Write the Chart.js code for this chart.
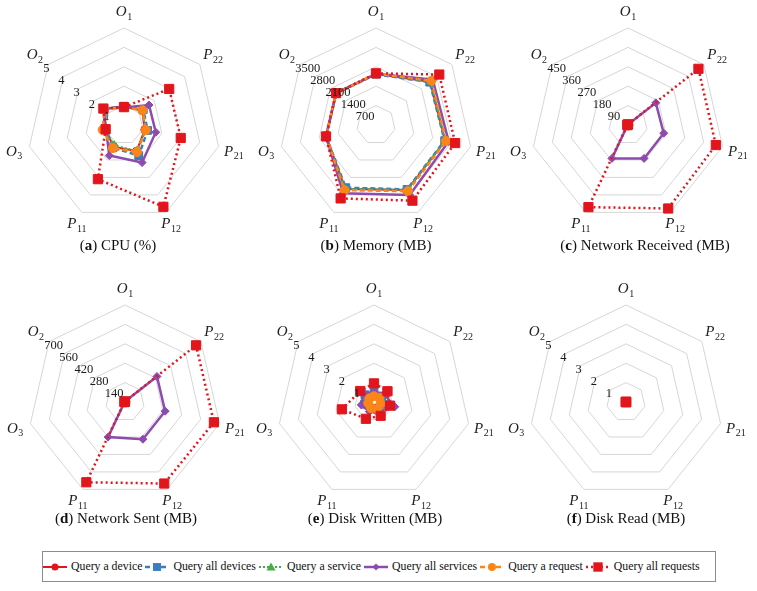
<!DOCTYPE html>
<html>
<head>
<meta charset="utf-8">
<script src="https://cdn.jsdelivr.net/npm/chart.js@4.4.0/dist/chart.umd.min.js"></script>
<style>
  html, body { margin: 0; padding: 0; background: #fff; }
  body { width: 757px; height: 591px; position: relative; overflow: hidden;
         font-family: "Liberation Serif", "DejaVu Serif", serif; color: #111; }
  canvas.panel { position: absolute; }
  .cap { position: absolute; font-size: 15px; transform: translate(-50%, -50%); white-space: nowrap; }
  #legend { position: absolute; left: 42px; top: 551px; width: 674px; height: 31px; box-sizing: border-box;
            border: 1px solid #8c8c8c; display: flex; align-items: center; padding-left: 0px; font-size: 11.8px;
            white-space: nowrap; }
  .li { display: flex; align-items: center; flex-shrink: 0; white-space: nowrap; }
  .li svg { margin: 0 4px 0 0; flex-shrink: 0; }
  .li span { margin-right: 3px; white-space: nowrap; }
</style>
</head>
<body>
<div id="legend"></div>
<script>
// ---------- DATA ----------
const categories = ['O1', 'P22', 'P21', 'P12', 'P11', 'O3', 'O2'];
const seriesNames = ['Query a device', 'Query all devices', 'Query a service',
                     'Query all services', 'Query a request', 'Query all requests'];

// CPU (%)
const cpuDevice      = [0.95, 1.20, 1.10, 1.50, 1.25, 0.97, 1.35];
const cpuAllDevices  = [0.97, 1.27, 1.25, 1.75, 1.30, 1.00, 1.33];
const cpuService     = [0.95, 1.20, 1.15, 1.50, 1.16, 1.00, 1.35];
const cpuAllServices = [0.90, 1.65, 1.68, 2.15, 1.75, 0.95, 1.35];
const cpuRequest     = [0.92, 1.22, 1.15, 1.55, 1.32, 1.13, 1.30];
const cpuAllRequests = [0.92, 2.98, 3.00, 4.68, 3.10, 0.97, 1.36];
const cpuTicks = [1, 2, 3, 4, 5];

// Memory (MB)
const memDevice      = [1840, 2500, 2560, 2600, 2560, 1840, 1830];
const memAllDevices  = [1830, 2480, 2540, 2580, 2510, 1850, 1830];
const memService     = [1840, 2520, 2560, 2600, 2560, 1840, 1840];
const memAllServices = [1850, 2620, 2690, 2800, 2730, 1850, 1850];
const memRequest     = [1850, 2560, 2590, 2650, 2610, 1850, 1840];
const memAllRequests = [1865, 2920, 2930, 3030, 2940, 1850, 1845];
const memTicks = [700, 1400, 2100, 2800, 3500];

// Network Received (MB)
const nrDevice      = [1.5, 2, 2, 2, 2, 1.5, 1.5];
const nrAllDevices  = [2, 2.5, 2.5, 2.5, 2.5, 2, 2];
const nrService     = [1.5, 2, 2, 2, 2, 1.5, 1.5];
const nrAllServices = [2, 165, 170, 172, 172, 2, 2];
const nrRequest     = [1.5, 2, 2, 2, 2, 1.5, 1.5];
const nrAllRequests = [3, 418, 418, 430, 423, 3, 3];
const nrTicks = [90, 180, 270, 360, 450];

// Network Sent (MB)
const nsDevice      = [2, 3, 3, 3, 3, 2, 2];
const nsAllDevices  = [3, 4, 4, 4, 4, 3, 3];
const nsService     = [2, 3, 3, 3, 3, 2, 2];
const nsAllServices = [3, 295, 297, 298, 281, 3, 3];
const nsRequest     = [2, 3, 3, 3, 3, 2, 2];
const nsAllRequests = [4, 656, 658, 653, 643, 4, 4];
const nsTicks = [140, 280, 420, 560, 700];

// Disk Written (MB)
const dwDevice      = [0.35, 0.40, 0.40, 0.35, 0.35, 0.40, 0.40];
const dwAllDevices  = [0.55, 0.50, 0.50, 0.45, 0.40, 0.50, 0.60];
const dwService     = [0.40, 0.45, 0.45, 0.40, 0.40, 0.45, 0.45];
const dwAllServices = [0.50, 0.66, 1.10, 0.52, 0.55, 0.67, 0.70];
const dwRequest     = [0.30, 0.35, 0.35, 0.40, 0.35, 0.30, 0.30];
const dwAllRequests = [0.96, 0.89, 0.85, 0.79, 0.96, 1.70, 0.91];
const dwTicks = [1, 2, 3, 4, 5];

// Disk Read (MB)
const drDevice      = [0, 0, 0, 0, 0, 0, 0];
const drAllDevices  = [0, 0, 0, 0, 0, 0, 0];
const drService     = [0, 0, 0, 0, 0, 0, 0];
const drAllServices = [0, 0, 0, 0, 0, 0, 0];
const drRequest     = [0, 0, 0, 0, 0, 0, 0];
const drAllRequests = [0, 0, 0, 0, 0, 0, 0];
const drTicks = [1, 2, 3, 4, 5];

// ---------- STYLES ----------
const FONT = '"Liberation Serif", "DejaVu Serif", serif';
const styles = [
  { color: '#e3151c', dash: [],     width: 2,   point: 'circle',   radius: 4 },
  { color: '#3b7dc1', dash: [5, 3], width: 2.5, point: 'rect',     radius: 5.5 },
  { color: '#45ad48', dash: [2, 2], width: 2,   point: 'triangle', radius: 4.5 },
  { color: '#8e4bae', dash: [],     width: 2.5, point: 'rectRot',  radius: 4 },
  { color: '#fb8617', dash: [5, 3], width: 2.5, point: 'circle',   radius: 4.5 },
  { color: '#e3151c', dash: [2, 3], width: 2.5, point: 'rect',     radius: 6.5 }
];

const panels = [
  { letter: 'a', title: 'CPU (%)',              series: [cpuDevice, cpuAllDevices, cpuService, cpuAllServices, cpuRequest, cpuAllRequests], ticks: cpuTicks, cx: 124, cy: 125, capX: 118, capY: 245 },
  { letter: 'b', title: 'Memory (MB)',          series: [memDevice, memAllDevices, memService, memAllServices, memRequest, memAllRequests], ticks: memTicks, cx: 376, cy: 125, capX: 376, capY: 245 },
  { letter: 'c', title: 'Network Received (MB)',series: [nrDevice, nrAllDevices, nrService, nrAllServices, nrRequest, nrAllRequests], ticks: nrTicks, cx: 628, cy: 125, capX: 645, capY: 245 },
  { letter: 'd', title: 'Network Sent (MB)',    series: [nsDevice, nsAllDevices, nsService, nsAllServices, nsRequest, nsAllRequests], ticks: nsTicks, cx: 125, cy: 402, capX: 126, capY: 518 },
  { letter: 'e', title: 'Disk Written (MB)',    series: [dwDevice, dwAllDevices, dwService, dwAllServices, dwRequest, dwAllRequests], ticks: dwTicks, cx: 374, cy: 402, capX: 375, capY: 518 },
  { letter: 'f', title: 'Disk Read (MB)',       series: [drDevice, drAllDevices, drService, drAllServices, drRequest, drAllRequests], ticks: drTicks, cx: 626, cy: 402, capX: 626, capY: 518 }
];

// ---------- TEXT PLUGIN ----------
function drawSubLabel(ctx, x, y, main, sub) {
  const mainFont = 'italic 15px ' + FONT;
  const subFont = '10px ' + FONT;
  ctx.font = mainFont; const w1 = ctx.measureText(main).width;
  ctx.font = subFont;  const w2 = ctx.measureText(sub).width;
  const sx = x - (w1 + w2 + 0.5) / 2;
  ctx.textAlign = 'left'; ctx.textBaseline = 'middle';
  ctx.font = mainFont; ctx.fillText(main, sx, y + 1.5);
  ctx.font = subFont;  ctx.fillText(sub, sx + w1 + 0.5, y + 6.5);
}

const textPlugin = {
  id: 'radarText',
  afterDatasetsDraw(chart, args, opts) {
    const s = chart.scales.r;
    const ctx = chart.ctx;
    ctx.save();
    ctx.fillStyle = '#1a1a1a';
    ctx.font = '12.5px ' + FONT;
    ctx.textAlign = 'left'; ctx.textBaseline = 'middle';
    (opts.ticks || []).forEach(v => {
      const p = s.getPointPositionForValue(6, v);
      ctx.fillText(String(v), p.x - 5, p.y + 4);
    });
    ctx.fillStyle = '#222';
    chart.data.labels.forEach((lab, i) => {
      const ang = s.getIndexAngle(i) - Math.PI / 2;
      const dist = s.drawingArea + 17 - 6 * Math.max(0, Math.sin(ang));
      const p = s.getPointPosition(i, dist);
      drawSubLabel(ctx, p.x, p.y, lab[0], lab.slice(1));
    });
    ctx.restore();
  }
};

// ---------- BUILD CHARTS ----------
const W = 252, H = 240;
panels.forEach(pn => {
  const cv = document.createElement('canvas');
  cv.className = 'panel';
  cv.width = W; cv.height = H;
  cv.style.width = W + 'px'; cv.style.height = H + 'px';
  cv.style.left = (pn.cx - W / 2) + 'px';
  cv.style.top = (pn.cy - H / 2) + 'px';
  document.body.appendChild(cv);

  const cap = document.createElement('div');
  cap.className = 'cap';
  cap.style.left = pn.capX + 'px';
  cap.style.top = pn.capY + 'px';
  cap.innerHTML = '(<b>' + pn.letter + '</b>) ' + pn.title;
  document.body.appendChild(cap);

  new Chart(cv, {
    type: 'radar',
    data: {
      labels: categories,
      datasets: pn.series.map((vals, i) => ({
        label: seriesNames[i],
        data: vals,
        order: 5 - i,
        fill: false,
        borderColor: styles[i].color,
        backgroundColor: styles[i].color,
        borderWidth: styles[i].width,
        borderDash: styles[i].dash,
        pointStyle: styles[i].point,
        pointRadius: styles[i].radius,
        pointBackgroundColor: styles[i].color,
        pointBorderColor: styles[i].color,
        pointBorderWidth: 1,
        tension: 0
      }))
    },
    options: {
      responsive: false,
      animation: false,
      devicePixelRatio: 1,
      layout: { padding: { left: 29, right: 29, top: 23, bottom: 23 } },
      plugins: { legend: { display: false }, tooltip: { enabled: false }, radarText: { ticks: pn.ticks } },
      scales: {
        r: {
          min: 0,
          max: pn.ticks[pn.ticks.length - 1],
          ticks: { display: false, stepSize: pn.ticks[0] },
          grid: { color: '#d6d6d6', lineWidth: 1 },
          angleLines: { display: false },
          pointLabels: { display: false }
        }
      }
    },
    plugins: [textPlugin]
  });
});

// ---------- LEGEND ----------
function markerSvg(st) {
  const c = st.color;
  let shape = '';
  if (st.point === 'circle') shape = `<circle cx="12" cy="6" r="${st.radius - 0.5}" fill="${c}"/>`;
  else if (st.point === 'rect') { const h = st.radius * 0.72; shape = `<rect x="${12 - h}" y="${6 - h}" width="${2 * h}" height="${2 * h}" fill="${c}"/>`; }
  else if (st.point === 'triangle') shape = `<polygon points="12,1.5 16.5,9.5 7.5,9.5" fill="${c}"/>`;
  else if (st.point === 'rectRot') shape = `<polygon points="12,2.5 15.5,6 12,9.5 8.5,6" fill="${c}"/>`;
  const dash = st.dash.length ? `stroke-dasharray="${st.dash.join(',')}"` : '';
  return `<svg width="24" height="12" viewBox="0 0 24 12"><line x1="0" y1="6" x2="24" y2="6" stroke="${c}" stroke-width="${st.width}" ${dash}/>${shape}</svg>`;
}
const legend = document.getElementById('legend');
seriesNames.forEach((name, i) => {
  const d = document.createElement('div');
  d.className = 'li';
  d.innerHTML = markerSvg(styles[i]) + '<span>' + name + '</span>';
  legend.appendChild(d);
});
</script>
</body>
</html>
